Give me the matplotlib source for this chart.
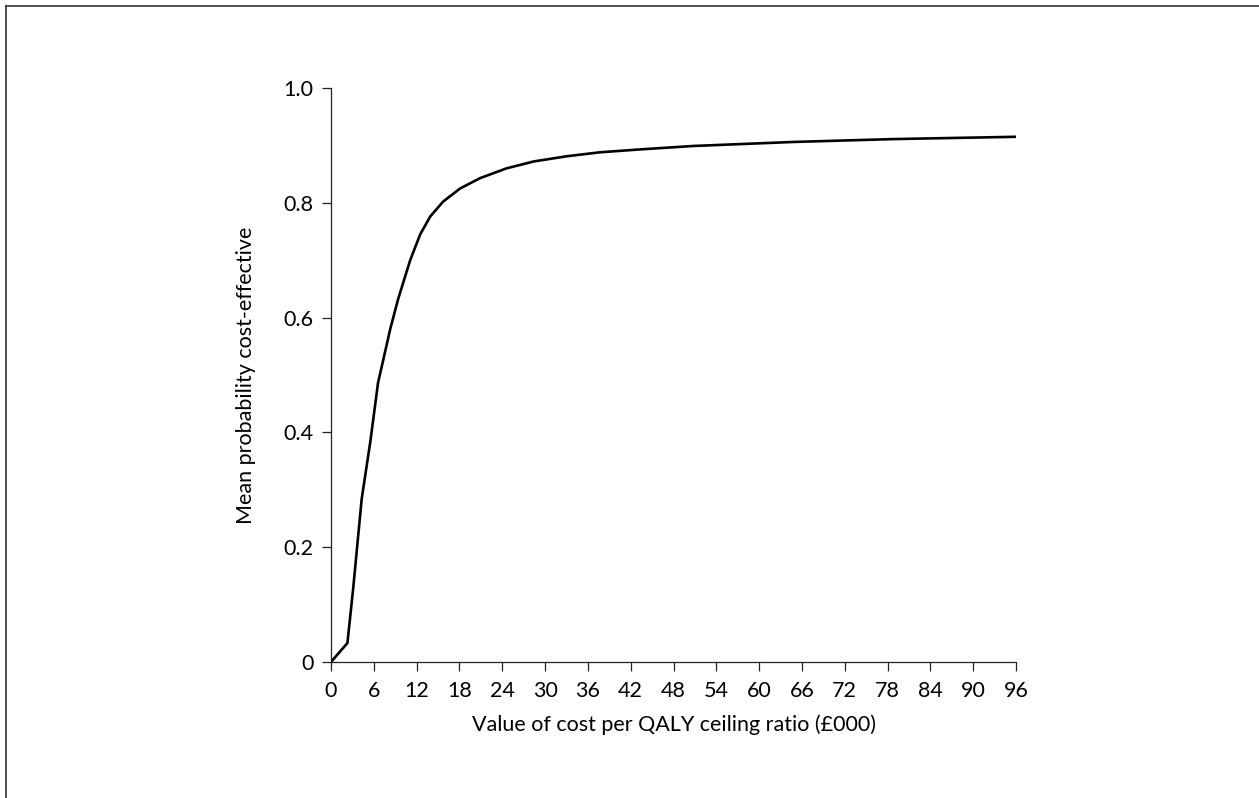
import matplotlib
matplotlib.use("Agg")
import matplotlib.pyplot as plt
from matplotlib.lines import Line2D

ceiling_k = [0, 2.3, 3.1, 4.3, 5.5, 6.6, 7.3, 8.3, 9.4, 11.1, 12.5, 13.9, 15.7,
             18.1, 20.9, 24.6, 28.4, 33.0, 37.7, 43.3, 50.8, 64.8, 78.8, 96]
prob_ce = [0, 0.033, 0.127, 0.284, 0.383, 0.487, 0.525, 0.58, 0.632, 0.70, 0.745,
           0.776, 0.802, 0.825, 0.843, 0.860, 0.872, 0.881, 0.888, 0.893, 0.899,
           0.906, 0.911, 0.915]
x_ticks = list(range(0, 97, 6))
y_ticks = [0, 0.2, 0.4, 0.6, 0.8, 1.0]
y_tick_labels = ["0", "0.2", "0.4", "0.6", "0.8", "1.0"]

plt.rcParams['font.family'] = ['Lato', 'DejaVu Sans']

fig = plt.figure(figsize=(12.59, 7.98), dpi=100)
ax = fig.add_axes([331/1259, 1 - 662/798, (1016-331)/1259, (662-88)/798])

ax.plot(ceiling_k, prob_ce, color='black', lw=1.9, solid_joinstyle='round')
ax.set_xlim(0, 96)
ax.set_ylim(0, 1.0)
ax.set_xticks(x_ticks)
ax.set_xticklabels([str(t) for t in x_ticks])
ax.set_yticks(y_ticks)
ax.set_yticklabels(y_tick_labels)
for s in ['top', 'right']:
    ax.spines[s].set_visible(False)
for s in ['left', 'bottom']:
    ax.spines[s].set_linewidth(0.9)
    ax.spines[s].set_color('#222222')
ax.tick_params(direction='out', length=6.5, width=0.9, color='#222222',
               labelsize=15.5)
ax.tick_params(axis='y', pad=6)
ax.tick_params(axis='x', pad=7)
ax.set_xlabel("Value of cost per QALY ceiling ratio (£000)", fontsize=15.5, labelpad=10)
ax.set_ylabel("Mean probability cost-effective", fontsize=15.5, labelpad=20)

# partial figure frame (top and left edges)
fig.add_artist(Line2D([6/1259, 6/1259], [0, 1 - 6/798], transform=fig.transFigure,
                      color='#333333', lw=1.2))
fig.add_artist(Line2D([6/1259, 1], [1 - 6/798, 1 - 6/798], transform=fig.transFigure,
                      color='#333333', lw=1.2))

fig.savefig("out.png", dpi=100)
